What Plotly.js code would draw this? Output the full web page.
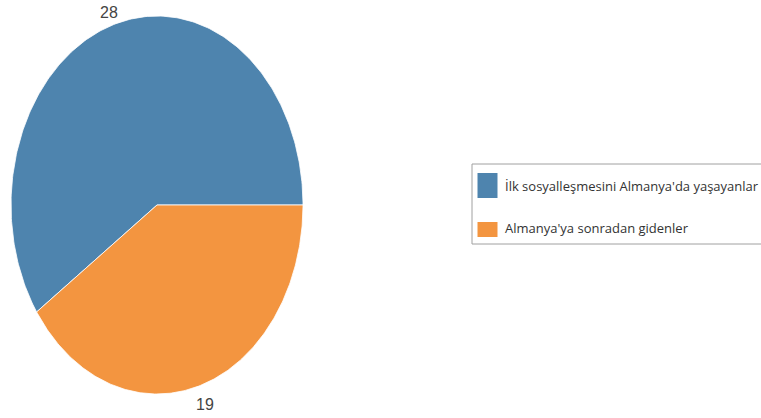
<!DOCTYPE html>
<html><head><meta charset="utf-8">
<script src="https://cdn.plot.ly/plotly-3.0.1.min.js"></script>
<style>html,body{margin:0;padding:0;background:#fff;}</style>
</head><body>
<div id="chart" style="width:761px;height:418px;"></div>
<script>
var categories = ["İlk sosyalleşmesini Almanya'da yaşayanlar", "Almanya'ya sonradan gidenler"];
var values = [28, 19];
var colors = ["#4E84AE", "#F39540"];

var W = 761, H = 418;
var total = values.reduce(function(a,b){return a+b;},0);
var traces = [];
var annotations = [];
var start = 0; // degrees, counterclockwise from east
for (var i = 0; i < values.length; i++) {
  var sweep = values[i] / total * 360;
  var xs = [0], ys = [0];
  var n = 240;
  for (var k = 0; k <= n; k++) {
    var a = (start + sweep * k / n) * Math.PI / 180;
    xs.push(Math.cos(a)); ys.push(Math.sin(a));
  }
  xs.push(0); ys.push(0);
  traces.push({
    type: 'scatter', mode: 'lines', x: xs, y: ys, fill: 'toself',
    fillcolor: colors[i], line: {color: '#ffffff', width: 0.8},
    name: categories[i], showlegend: false, hoverinfo: 'skip'
  });
  var mid = (start + sweep / 2) * Math.PI / 180;
  annotations.push({
    xref: 'x', yref: 'y', x: 1.1 * Math.cos(mid), y: 1.088 * Math.sin(mid),
    yshift: -3.5, showarrow: false, xanchor: 'center', yanchor: 'middle',
    text: String(values[i]),
    font: {family: 'Liberation Sans Narrow, Arial Narrow, sans-serif', size: 16, color: '#444444'}
  });
  start += sweep;
}

// custom legend (box runs off the right edge, as in the reference)
function px(x){return x / W;}
function py(y){return 1 - y / H;}
var swatches = [[173, 198], [222, 237]];
var textY = [186, 228];
var shapes = [{
  type: 'rect', xref: 'paper', yref: 'paper',
  x0: px(472), x1: px(790), y0: py(164), y1: py(244),
  line: {color: '#A0A0A0', width: 1}, fillcolor: 'rgba(0,0,0,0)'
}];
for (var j = 0; j < categories.length; j++) {
  shapes.push({
    type: 'rect', xref: 'paper', yref: 'paper',
    x0: px(477.5), x1: px(497.5), y0: py(swatches[j][0]), y1: py(swatches[j][1]),
    line: {width: 0}, fillcolor: colors[j]
  });
  annotations.push({
    xref: 'paper', yref: 'paper', x: px(503), y: py(textY[j]),
    xanchor: 'left', yanchor: 'middle', showarrow: false,
    text: categories[j],
    font: {family: 'Open Sans, sans-serif', size: 13, color: '#333333'}
  });
}

var layout = {
  width: W, height: H,
  margin: {l: 0, r: 0, t: 0, b: 0},
  paper_bgcolor: '#ffffff', plot_bgcolor: '#ffffff',
  xaxis: {range: [-157/146, (W-157)/146], visible: false, fixedrange: true},
  yaxis: {range: [-(H-205)/189, 205/189], visible: false, fixedrange: true},
  showlegend: false,
  shapes: shapes,
  annotations: annotations
};
Plotly.newPlot('chart', traces, layout, {displayModeBar: false, staticPlot: true});
</script>
</body></html>
